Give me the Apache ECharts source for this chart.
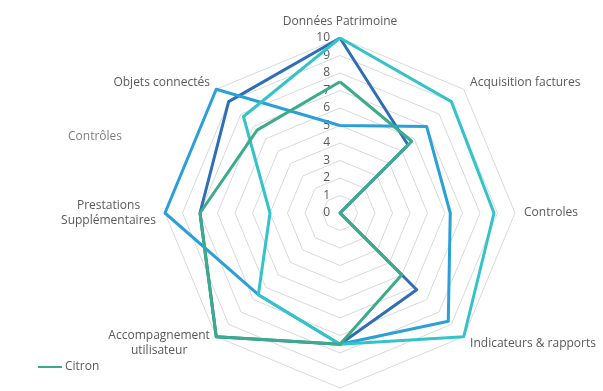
<!DOCTYPE html>
<html>
<head>
<meta charset="utf-8">
<script src="https://cdn.jsdelivr.net/npm/echarts@6/dist/echarts.min.js"></script>
<style>
  html, body { margin: 0; padding: 0; background: #fff; }
  #container { width: 603px; height: 391px; }
</style>
</head>
<body>
<div id="container"></div>
<script>
// axes, counterclockwise from the top (ECharts lays radar indicators out that way)
const axes = ['Données Patrimoine', 'Objets connectés', 'Prestations\nSupplémentaires',
    'Accompagnement\nutilisateur', '', 'Indicateurs & rapports', 'Controles', 'Acquisition factures'];
const tickLabels = ['0', '1', '2', '3', '4', '5', '6', '7', '8', '9', '10'];

const serieBleuFonce = [10, 9, 8, 10, 7.5, 6.2, 0, 5.5];
const serieBleu = [5, 10, 10, 6.6, 7.5, 8.75, 6.3, 7];
const serieCyan = [10, 7.8, 4, 6.6, 7.5, 10, 8.8, 9];
const serieCitron = [7.5, 6.7, 8, 10, 7.5, 5, 0, 5.8];

const seriesNames = ['Série A', 'Série B', 'Série C', 'Citron'];
const seriesData = [serieBleuFonce, serieBleu, serieCyan, serieCitron];
const colors = ['#2f6db5', '#2a9fd8', '#34c3c9', '#3bab8b'];

const cx = 340, cy = 213, R = 175;

class ChartGenerator {
    constructor(containerId) {
        this.container = document.getElementById(containerId);
        this.chart = echarts.init(this.container, null, { renderer: 'canvas' });
        this.option = {
            animation: false,
            textStyle: { fontFamily: 'Open Sans' },
            legend: {
                data: ['Citron'],
                left: 33,
                top: 356,
                icon: 'rect',
                itemWidth: 24,
                itemHeight: 2,
                textStyle: { color: '#595959', fontSize: 12, padding: [0, 0, 0, -2] }
            },
            graphic: [{
                type: 'text',
                left: 68,
                top: 131,
                style: { text: 'Contrôles', fill: '#7f7f7f', fontSize: 12, fontFamily: 'Open Sans' }
            }],
            grid: { left: cx - 8, top: cy - R, width: 1, height: R },
            xAxis: { show: false, type: 'value' },
            yAxis: {
                type: 'value',
                min: 0,
                max: 10,
                interval: 1,
                axisLine: { show: false },
                axisTick: { show: false },
                splitLine: { show: false },
                axisLabel: {
                    color: '#595959',
                    fontSize: 12,
                    margin: 2,
                    formatter: (v) => tickLabels[v]
                }
            },
            radar: {
                center: [cx, cy],
                radius: R,
                startAngle: 90,
                splitNumber: 10,
                shape: 'polygon',
                indicator: axes.map((name) => ({ name: name, min: 0, max: 10 })),
                axisName: {
                    color: '#595959',
                    fontSize: 12,
                    formatter: (name) => name.split('\n').map((l) => '{c|' + l + '}').join('\n'),
                    rich: { c: { align: 'center', color: '#595959', fontSize: 12, lineHeight: 15 } }
                },
                nameGap: 9,
                axisLine: { show: false },
                splitArea: { show: false },
                splitLine: { lineStyle: { color: '#d9d9d9', width: 1 } }
            },
            series: [{
                type: 'radar',
                symbol: 'none',
                data: seriesData.map((vals, i) => ({
                    name: seriesNames[i],
                    value: vals,
                    lineStyle: { color: colors[i], width: 3 },
                    itemStyle: { color: colors[i] }
                }))
            }]
        };
        this.chart.setOption(this.option);
        window.addEventListener('resize', () => this.chart.resize());
    }
}

const chartInstance = new ChartGenerator('container');
</script>
</body>
</html>
